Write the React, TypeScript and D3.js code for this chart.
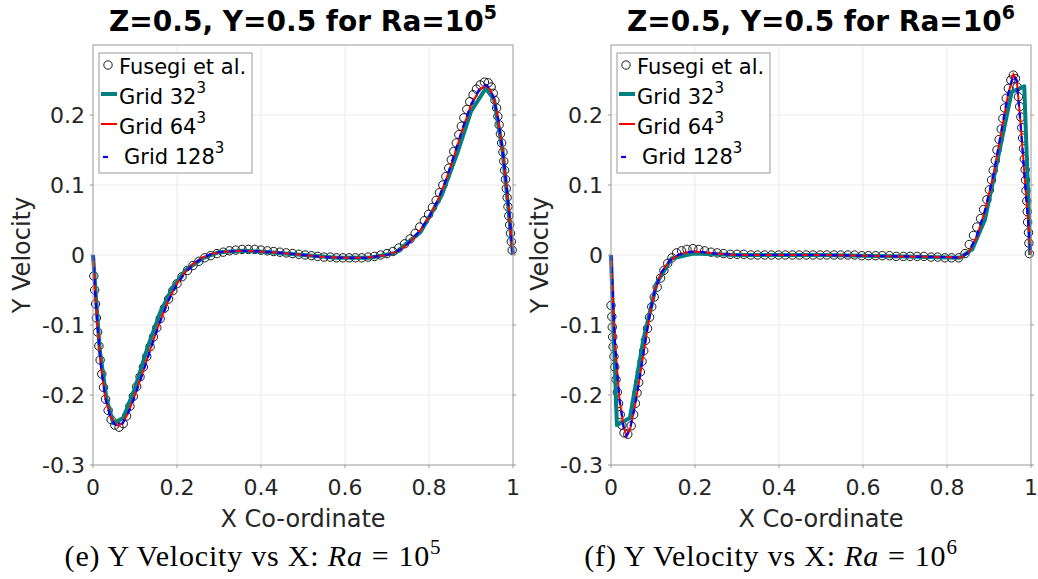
import React from "react";
import * as d3 from "d3";

const xTicks = [0, 0.2, 0.4, 0.6, 0.8, 1];
const xTickLabels = ["0", "0.2", "0.4", "0.6", "0.8", "1"];
const yTicks = [-0.3, -0.2, -0.1, 0, 0.1, 0.2];
const yTickLabels = ["-0.3", "-0.2", "-0.1", "0", "0.1", "0.2"];
const legendLabels = ["Fusegi et al.", "Grid 32", "Grid 64", "Grid 128"];
const legendSups = ["", "3", "3", "3"];

// Ra = 1e5
const fus5X = [0.002,0.004,0.006,0.008,0.011,0.014,0.017,0.021,0.025,0.030,0.036,0.043,0.052,0.062,0.072,0.080,0.088,0.096,0.104,0.112,0.120,0.128,0.136,0.144,0.152,0.160,0.170,0.180,0.190,0.200,0.212,0.225,0.238,0.252,0.266,0.280,0.295,0.310,0.325,0.340,0.355,0.370,0.385,0.400,0.415,0.430,0.445,0.460,0.475,0.490,0.505,0.520,0.535,0.550,0.565,0.580,0.595,0.610,0.625,0.640,0.655,0.670,0.685,0.700,0.714,0.728,0.742,0.755,0.767,0.778,0.789,0.799,0.808,0.817,0.825,0.833,0.840,0.847,0.853,0.859,0.865,0.871,0.877,0.883,0.890,0.897,0.905,0.913,0.922,0.932,0.941,0.948,0.953,0.957,0.961,0.964,0.967,0.970,0.973,0.976,0.978,0.980,0.982,0.984,0.986,0.988,0.990,0.992,0.994,0.996,0.998];
const fus5Y = [-0.030,-0.050,-0.070,-0.090,-0.110,-0.130,-0.150,-0.170,-0.189,-0.206,-0.222,-0.235,-0.243,-0.246,-0.241,-0.230,-0.216,-0.202,-0.188,-0.174,-0.160,-0.145,-0.131,-0.117,-0.104,-0.091,-0.076,-0.063,-0.051,-0.041,-0.031,-0.022,-0.015,-0.009,-0.004,-0.001,0.002,0.004,0.006,0.007,0.008,0.008,0.008,0.007,0.006,0.005,0.004,0.003,0.002,0.001,0.000,-0.001,-0.002,-0.003,-0.003,-0.004,-0.004,-0.004,-0.004,-0.004,-0.003,-0.002,0.000,0.002,0.005,0.010,0.016,0.023,0.031,0.040,0.049,0.058,0.068,0.078,0.089,0.100,0.112,0.124,0.136,0.148,0.160,0.172,0.184,0.196,0.208,0.219,0.229,0.237,0.243,0.247,0.246,0.240,0.231,0.221,0.210,0.198,0.186,0.173,0.160,0.147,0.134,0.121,0.108,0.095,0.082,0.069,0.056,0.043,0.031,0.019,0.007];
const g32_5X = [0,0.016,0.032,0.048,0.072,0.10,0.13,0.16,0.19,0.22,0.26,0.30,0.36,0.42,0.50,0.58,0.66,0.72,0.78,0.83,0.87,0.90,0.935,0.955,0.975,0.99,1.0];
const g32_5Y = [0,-0.135,-0.205,-0.240,-0.233,-0.190,-0.132,-0.082,-0.046,-0.022,-0.005,0.004,0.006,0.004,0.000,-0.004,-0.004,0.003,0.033,0.085,0.150,0.205,0.238,0.222,0.150,0.060,0];
const g64_5X = [0,0.005,0.01,0.02,0.03,0.04,0.05,0.06,0.07,0.08,0.09,0.10,0.12,0.14,0.16,0.18,0.20,0.22,0.24,0.26,0.28,0.30,0.35,0.40,0.45,0.50,0.55,0.60,0.65,0.70,0.72,0.74,0.76,0.78,0.80,0.82,0.84,0.86,0.88,0.90,0.92,0.935,0.945,0.955,0.965,0.975,0.985,0.993,1.0];
const g64_5Y = [0,-0.050,-0.095,-0.165,-0.205,-0.228,-0.240,-0.244,-0.240,-0.230,-0.216,-0.200,-0.165,-0.128,-0.094,-0.064,-0.041,-0.024,-0.012,-0.004,0.001,0.004,0.006,0.005,0.003,0.000,-0.003,-0.004,-0.004,0.000,0.004,0.011,0.022,0.036,0.054,0.077,0.106,0.142,0.180,0.214,0.236,0.242,0.237,0.222,0.192,0.150,0.096,0.045,0.0];
const g128_5X = [0,0.005,0.01,0.02,0.03,0.04,0.05,0.06,0.07,0.08,0.09,0.10,0.12,0.14,0.16,0.18,0.20,0.22,0.24,0.26,0.28,0.30,0.35,0.40,0.45,0.50,0.55,0.60,0.65,0.70,0.72,0.74,0.76,0.78,0.80,0.82,0.84,0.86,0.88,0.90,0.92,0.935,0.945,0.955,0.965,0.975,0.985,0.993,1.0];
const g128_5Y = [0,-0.051,-0.096,-0.166,-0.206,-0.229,-0.241,-0.245,-0.241,-0.231,-0.217,-0.201,-0.166,-0.129,-0.095,-0.065,-0.042,-0.025,-0.013,-0.005,0.001,0.004,0.006,0.005,0.003,0.000,-0.003,-0.004,-0.004,0.000,0.004,0.011,0.022,0.036,0.054,0.077,0.107,0.143,0.181,0.215,0.237,0.243,0.238,0.223,0.193,0.151,0.097,0.046,0.0];

// Ra = 1e6
const fus6X = [0.000,0.002,0.003,0.004,0.005,0.007,0.009,0.012,0.015,0.018,0.022,0.026,0.031,0.040,0.048,0.054,0.058,0.062,0.066,0.070,0.074,0.078,0.082,0.087,0.092,0.097,0.103,0.110,0.118,0.126,0.135,0.145,0.156,0.168,0.181,0.195,0.209,0.223,0.238,0.253,0.268,0.284,0.300,0.316,0.333,0.349,0.366,0.382,0.399,0.415,0.432,0.448,0.465,0.481,0.498,0.514,0.531,0.547,0.564,0.580,0.597,0.613,0.630,0.646,0.663,0.679,0.696,0.712,0.729,0.745,0.762,0.778,0.795,0.811,0.828,0.843,0.853,0.863,0.871,0.880,0.887,0.895,0.901,0.906,0.910,0.915,0.919,0.924,0.929,0.933,0.937,0.941,0.946,0.952,0.958,0.963,0.967,0.970,0.973,0.976,0.978,0.980,0.982,0.984,0.986,0.987,0.988,0.990,0.991,0.992,0.994,0.995,0.996];
const fus6Y = [-0.072,-0.088,-0.103,-0.117,-0.131,-0.145,-0.160,-0.178,-0.196,-0.212,-0.228,-0.243,-0.254,-0.256,-0.244,-0.228,-0.212,-0.197,-0.182,-0.167,-0.152,-0.137,-0.122,-0.105,-0.089,-0.074,-0.060,-0.046,-0.033,-0.022,-0.012,-0.004,0.003,0.006,0.008,0.009,0.008,0.006,0.004,0.003,0.002,0.001,0.001,0.001,0.000,0.000,0.000,0.000,0.000,0.000,0.000,0.000,0.000,0.000,0.000,0.000,0.000,0.000,0.000,0.000,-0.001,-0.001,-0.001,-0.001,-0.001,-0.002,-0.002,-0.002,-0.002,-0.002,-0.003,-0.003,-0.004,-0.004,-0.004,0.002,0.015,0.028,0.040,0.052,0.065,0.079,0.093,0.107,0.121,0.135,0.150,0.165,0.180,0.195,0.210,0.224,0.238,0.250,0.257,0.252,0.240,0.226,0.212,0.197,0.182,0.167,0.152,0.137,0.122,0.107,0.092,0.077,0.062,0.047,0.032,0.017,0.002];
const g32_6X = [0,0.014,0.045,0.077,0.109,0.144,0.196,0.30,0.50,0.70,0.83,0.86,0.89,0.92,0.954,0.984,0.998];
const g32_6Y = [0,-0.243,-0.233,-0.121,-0.040,-0.005,0.002,0.0,0.0,-0.002,-0.004,0.008,0.050,0.135,0.233,0.241,0.0];
const g64_6X = [0,0.005,0.01,0.02,0.03,0.037,0.045,0.055,0.065,0.075,0.085,0.095,0.105,0.12,0.14,0.16,0.18,0.20,0.22,0.25,0.30,0.40,0.50,0.60,0.70,0.80,0.83,0.85,0.87,0.89,0.91,0.93,0.945,0.958,0.966,0.975,0.985,0.993,1.0];
const g64_6Y = [0,-0.070,-0.130,-0.205,-0.245,-0.259,-0.250,-0.222,-0.188,-0.150,-0.112,-0.077,-0.050,-0.025,-0.008,0.000,0.004,0.005,0.004,0.002,0.000,0.000,0.000,-0.001,-0.002,-0.003,-0.004,0.003,0.025,0.062,0.112,0.178,0.228,0.258,0.250,0.190,0.110,0.050,0.0];
const g128_6X = [0,0.005,0.01,0.02,0.03,0.037,0.045,0.055,0.065,0.075,0.085,0.095,0.105,0.12,0.14,0.16,0.18,0.20,0.22,0.25,0.30,0.40,0.50,0.60,0.70,0.80,0.83,0.85,0.87,0.89,0.91,0.93,0.945,0.958,0.966,0.975,0.985,0.993,1.0];
const g128_6Y = [0,-0.071,-0.131,-0.206,-0.246,-0.258,-0.249,-0.221,-0.187,-0.149,-0.111,-0.076,-0.049,-0.025,-0.008,0.000,0.004,0.005,0.004,0.002,0.000,0.000,0.000,-0.001,-0.002,-0.003,-0.004,0.003,0.026,0.063,0.113,0.179,0.229,0.257,0.249,0.189,0.109,0.049,0.0];

const COLORS = { teal: "#008080", red: "#ff0000", blue: "#0000ff", text: "#262626", box: "#999999", grid: "#ebebeb" };
const SANS = "DejaVu Sans";

type PanelProps = {
  ox: number; raSup: string; letter: string;
  fx: number[]; fy: number[];
  ax: number[]; ay: number[];
  bx: number[]; by: number[];
  cx: number[]; cy: number[];
};

function Panel(p: PanelProps) {
  const left = 93 + p.ox, right = 513 + p.ox, top = 45, bottom = 465;
  const x = d3.scaleLinear().domain([0, 1]).range([left, right]);
  const y = d3.scaleLinear().domain([-0.3, 0.3]).range([bottom, top]);
  const line = d3.line<[number, number]>().x(d => x(d[0])).y(d => y(d[1]));
  const pts = (xs: number[], ys: number[]) => xs.map((v, i) => [v, ys[i]] as [number, number]);
  const cxm = (left + right) / 2;
  const lgL = left + 6, lgT = 53;
  const rowY = [67, 97, 127, 157];
  return (
    <g>
      {/* title */}
      <text x={cxm} y={31} textAnchor="middle" fontFamily={SANS} fontWeight="bold" fontSize={28} fill="#000">
        Z=0.5, Y=0.5 for Ra=10<tspan dy={-12} fontSize={19}>{p.raSup}</tspan>
      </text>
      <rect x={left} y={top} width={right - left} height={bottom - top} fill="#fff" />
      {xTicks.slice(1, -1).map(t => (
        <line key={"gx" + t} x1={x(t)} x2={x(t)} y1={top} y2={bottom} stroke={COLORS.grid} strokeWidth={1} />
      ))}
      {yTicks.slice(1).map(t => (
        <line key={"gy" + t} x1={left} x2={right} y1={y(t)} y2={y(t)} stroke={COLORS.grid} strokeWidth={1} />
      ))}
      {/* data */}
      {pts(p.fx, p.fy).map((d, i) => (
        <circle key={"c" + i} cx={x(d[0])} cy={y(d[1])} r={4.2} fill="none" stroke="#000" strokeWidth={0.9} />
      ))}
      <path d={line(pts(p.ax, p.ay)) || ""} fill="none" stroke={COLORS.teal} strokeWidth={4} strokeLinejoin="round" />
      <path d={line(pts(p.bx, p.by)) || ""} fill="none" stroke={COLORS.red} strokeWidth={2} />
      <path d={line(pts(p.cx, p.cy)) || ""} fill="none" stroke={COLORS.blue} strokeWidth={2.2} strokeDasharray="6,6" />
      {/* box */}
      <rect x={left} y={top} width={right - left} height={bottom - top} fill="none" stroke={COLORS.box} strokeWidth={1} />
      {xTicks.map(t => (
        <line key={"tx" + t} x1={x(t)} x2={x(t)} y1={bottom} y2={bottom + 3} stroke={COLORS.box} />
      ))}
      {yTicks.map(t => (
        <g key={"ty" + t}>
          <line x1={left - 3} x2={left} y1={y(t)} y2={y(t)} stroke={COLORS.box} />
          <line x1={right} x2={right + 3} y1={y(t)} y2={y(t)} stroke={COLORS.box} />
        </g>
      ))}
      {xTicks.map((t, i) => (
        <text key={"lx" + t} x={x(t)} y={495} textAnchor="middle" fontFamily={SANS} fontSize={22} fill={COLORS.text}>{xTickLabels[i]}</text>
      ))}
      {yTicks.map((t, i) => (
        <text key={"ly" + t} x={left - 8} y={y(t) + 8} textAnchor="end" fontFamily={SANS} fontSize={22} fill={COLORS.text}>{yTickLabels[i]}</text>
      ))}
      <text x={cxm} y={527} textAnchor="middle" fontFamily={SANS} fontSize={24} fill={COLORS.text}>X Co-ordinate</text>
      <text transform={`translate(${left - 63},${(top + bottom) / 2}) rotate(-90)`} textAnchor="middle" fontFamily={SANS} fontSize={24} fill={COLORS.text}>Y Velocity</text>
      {/* legend */}
      <rect x={lgL} y={lgT} width={153} height={120} fill="#fff" stroke={COLORS.box} strokeWidth={1} />
      <circle cx={lgL + 9} cy={rowY[0] - 2} r={4.2} fill="none" stroke="#000" strokeWidth={0.9} />
      <line x1={lgL + 2} x2={lgL + 18} y1={rowY[1] - 3} y2={rowY[1] - 3} stroke={COLORS.teal} strokeWidth={4} />
      <line x1={lgL + 2} x2={lgL + 18} y1={rowY[2] - 3} y2={rowY[2] - 3} stroke={COLORS.red} strokeWidth={2} />
      <line x1={lgL + 4} x2={lgL + 9} y1={rowY[3]} y2={rowY[3]} stroke={COLORS.blue} strokeWidth={2.2} />
      {legendLabels.map((s, i) => (
        <text key={"lg" + i} x={lgL + (i === 3 ? 25 : 20)} y={rowY[i] + 7} fontFamily={SANS} fontSize={21} fill="#000">
          {s}{legendSups[i] ? <tspan dy={-11} fontSize={15}>{legendSups[i]}</tspan> : null}
        </text>
      ))}
      {/* caption */}
      <text x={cxm - 50} y={566} textAnchor="middle" fontFamily="Liberation Serif" fontSize={30} letterSpacing={0.8} fill="#000">
        ({p.letter}) Y Velocity vs X: <tspan fontStyle="italic">Ra</tspan><tspan dx={9}>=</tspan><tspan dx={9}>10</tspan><tspan dy={-12} fontSize={21}>{p.raSup}</tspan>
      </text>
    </g>
  );
}

export default function App() {
  return (
    <svg width={1038} height={579} style={{ position: "absolute", left: 0, top: 0, background: "#fff" }}>
      <rect x={0} y={0} width={1038} height={579} fill="#fff" />
      <Panel ox={0} raSup="5" letter="e" fx={fus5X} fy={fus5Y} ax={g32_5X} ay={g32_5Y} bx={g64_5X} by={g64_5Y} cx={g128_5X} cy={g128_5Y} />
      <Panel ox={518} raSup="6" letter="f" fx={fus6X} fy={fus6Y} ax={g32_6X} ay={g32_6Y} bx={g64_6X} by={g64_6Y} cx={g128_6X} cy={g128_6Y} />
    </svg>
  );
}
